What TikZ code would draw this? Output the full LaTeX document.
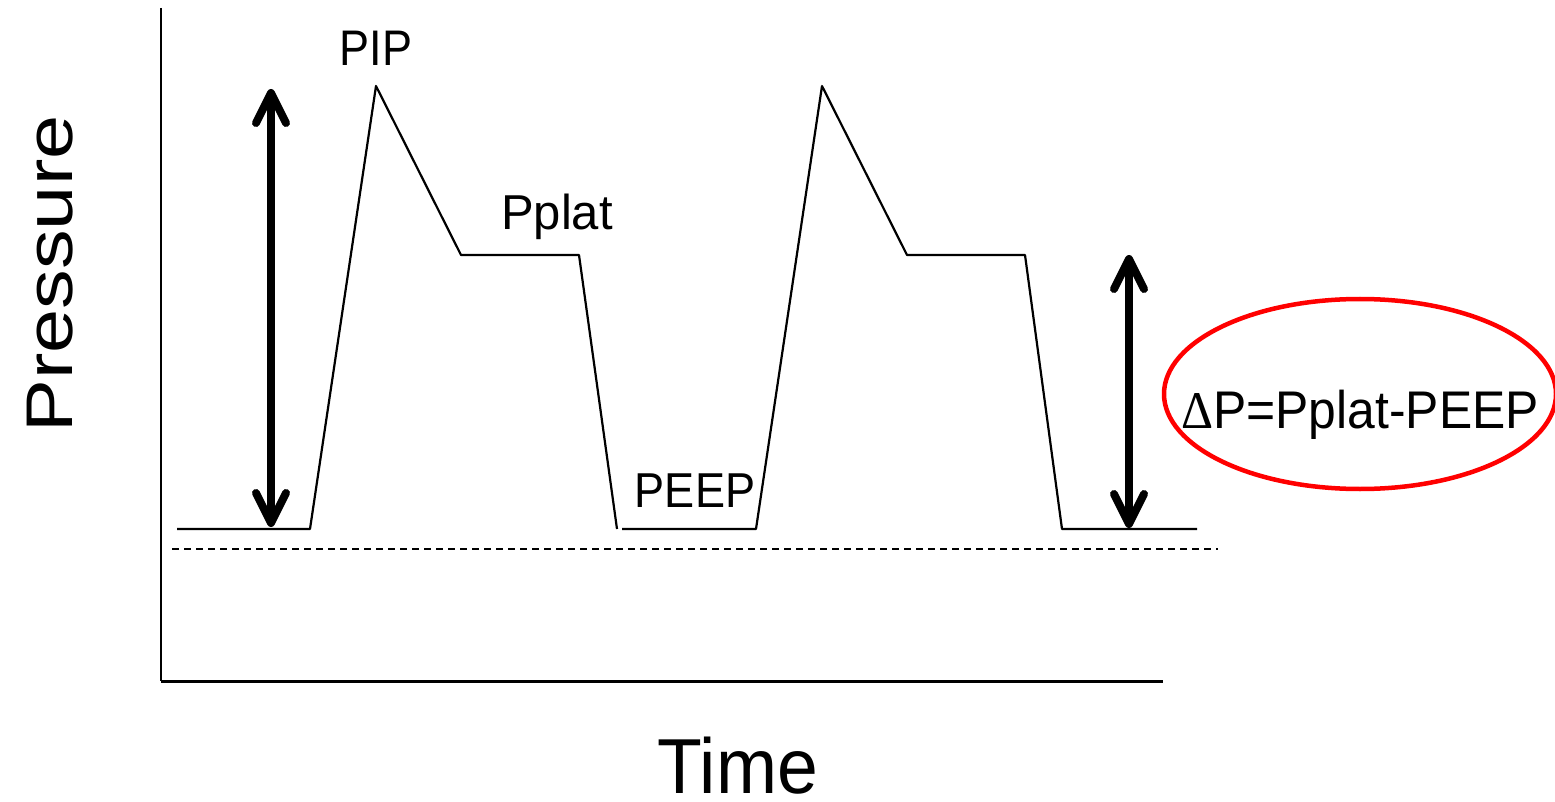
\documentclass[tikz,border=0pt]{standalone}
\usepackage{fontspec}
\setmainfont{Liberation Sans}
\newfontfamily\greekserif{Liberation Serif}
\usetikzlibrary{arrows.meta}

\begin{document}
\begin{tikzpicture}[x=1pt,y=-1pt,
  wave/.style={line width=2.2pt, line join=round},
  barb/.tip={Straight Barb[length=30pt,width=30pt,line cap=round,line join=round]},
  bigarrow/.style={line width=8pt, barb-barb},
  lbl/.style={inner sep=0pt, anchor=base},
]
\useasboundingbox (0,0) rectangle (1555,802);

% axes
\coordinate (origin) at (161,681);
\coordinate (ytop) at (161,8);
\coordinate (xend) at (1163,681);
\draw[line width=2pt] (ytop) -- (origin);
\draw[line width=3pt] (origin) -- (xend);

% zero-pressure reference
\coordinate (zl) at (172,549);
\coordinate (zr) at (1218,549);
\draw[line width=2pt, dash pattern=on 7pt off 5pt] (zl) -- (zr);

% two ventilator breaths
\draw[wave] (177,529) -- (310,529) -- (376,86) -- (461,255) -- (579,255) -- (617,529);
\draw[wave] (622,529) -- (756,529) -- (822,86) -- (907,255) -- (1025,255) -- (1062,529) -- (1197,529);

% pressure spans
\coordinate (a1top) at (271,89);
\coordinate (a1bot) at (271,527);
\draw[bigarrow] (a1bot) -- (a1top);
\coordinate (a2top) at (1129,255);
\coordinate (a2bot) at (1129,528);
\draw[bigarrow] (a2bot) -- (a2top);

% labels
\node[lbl, font=\fontsize{50}{50}\selectfont] (pip) at (376,66) {\scalebox{0.9}[1]{PIP}};
\node[lbl, font=\fontsize{49}{49}\selectfont] (pplat) at (557,230) {Pplat};
\node[lbl, font=\fontsize{49}{49}\selectfont] (peep) at (695,507) {\scalebox{0.92}[1]{PEEP}};
\node[lbl, font=\fontsize{78}{78}\selectfont] (xlab) at (738,793) {\scalebox{0.94}[1]{Time}};
\node[lbl, rotate=90, font=\fontsize{66}{66}\selectfont] (ylab) at (72,274) {\scalebox{1.2}[1]{Pressure}};

% driving pressure
\draw[red, line width=4.5pt] (1360,394) ellipse [x radius=196, y radius=95];
\node[lbl, font=\fontsize{53}{53}\selectfont] (dp) at (1360,428) {\scalebox{0.94}[1]{{\greekserif Δ}P=Pplat-PEEP}};
\end{tikzpicture}
\end{document}
